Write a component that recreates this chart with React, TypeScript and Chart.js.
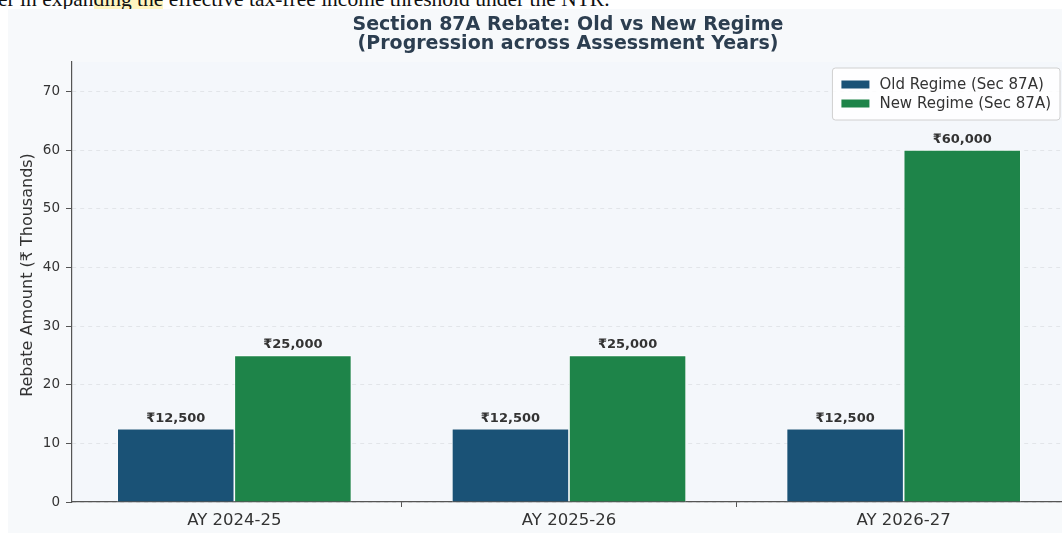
import React, { useEffect, useRef } from "react";
import { Chart, registerables } from "chart.js";

Chart.register(...registerables);

const categories = ["AY 2024-25", "AY 2025-26", "AY 2026-27"];
const oldRegime = [12.5, 12.5, 12.5];
const newRegime = [25, 25, 60];
const seriesLabels = ["Old Regime (Sec 87A)", "New Regime (Sec 87A)"];
const seriesColors = ["#1a5276", "#1e8449"];
const titleLines = ["Section 87A Rebate: Old vs New Regime", "(Progression across Assessment Years)"];
const yAxisTitle = "Rebate Amount (₹ Thousands)";
const yMax = 75;
const yStep = 10;
const captionBefore = "er in expan";
const captionHighlight = "ding the";
const captionAfter = " effective tax-free income threshold under the NTR.";

const FAMILY = "'DejaVu Sans', sans-serif";

const fmtRupee = (v: number) =>
  "₹" + String(Math.round(v * 1000)).replace(/\B(?=(\d{3})+(?!\d))/g, ",");

const bgPlugin = {
  id: "bgFill",
  beforeDraw(chart: any) {
    const { ctx, chartArea, width, height } = chart;
    ctx.save();
    ctx.fillStyle = "#f7f9fb";
    ctx.fillRect(0, 0, width, height);
    ctx.fillStyle = "#f4f7fb";
    ctx.fillRect(chartArea.left, chartArea.top, chartArea.right - chartArea.left, chartArea.bottom - chartArea.top);
    ctx.restore();
  },
};

const textPlugin = {
  id: "titles",
  afterDraw(chart: any) {
    const { ctx, chartArea } = chart;
    ctx.save();
    ctx.fillStyle = "#2c3e50";
    ctx.font = `bold 19px ${FAMILY}`;
    ctx.textAlign = "center";
    ctx.textBaseline = "middle";
    const cx = (chartArea.left + chartArea.right) / 2 - 1;
    titleLines.forEach((t, i) => ctx.fillText(t, cx, 16.5 + i * 19));
    ctx.translate(20, (chartArea.top + chartArea.bottom) / 2 - 7);
    ctx.rotate(-Math.PI / 2);
    ctx.fillStyle = "#333333";
    ctx.font = `16px ${FAMILY}`;
    ctx.fillText(yAxisTitle, 0, 0);
    ctx.restore();
  },
};

const valueLabelPlugin = {
  id: "valueLabels",
  afterDatasetsDraw(chart: any) {
    const { ctx } = chart;
    ctx.save();
    ctx.font = `bold 13px ${FAMILY}`;
    ctx.fillStyle = "#333333";
    ctx.textAlign = "center";
    ctx.textBaseline = "bottom";
    chart.data.datasets.forEach((ds: any, di: number) => {
      const meta = chart.getDatasetMeta(di);
      meta.data.forEach((el: any, i: number) => {
        const v = ds.data[i].y;
        ctx.fillText(fmtRupee(v), el.x, el.y - 4);
      });
    });
    ctx.restore();
  },
};

const legendPlugin = {
  id: "boxLegend",
  afterDraw(chart: any) {
    const { ctx, chartArea } = chart;
    const dsets = chart.data.datasets;
    ctx.save();
    ctx.font = `15px ${FAMILY}`;
    const maxW = Math.max(...dsets.map((d: any) => ctx.measureText(d.label).width));
    const padX = 9, patchW = 28, patchH = 8, gap = 10, rowH = 19, padY = 7;
    const boxW = padX + patchW + gap + maxW + padX;
    const boxH = padY * 2 + rowH * dsets.length;
    const right = chartArea.right - 6;
    const left = right - boxW;
    const top = chartArea.top + 6;
    ctx.beginPath();
    if ((ctx as any).roundRect) (ctx as any).roundRect(left, top, boxW, boxH, 3);
    else ctx.rect(left, top, boxW, boxH);
    ctx.fillStyle = "rgba(255,255,255,0.85)";
    ctx.fill();
    ctx.strokeStyle = "#d0d0d0";
    ctx.lineWidth = 1;
    ctx.stroke();
    ctx.textBaseline = "middle";
    ctx.textAlign = "left";
    dsets.forEach((d: any, i: number) => {
      const cy = top + padY + rowH * i + rowH / 2;
      ctx.fillStyle = d.backgroundColor;
      ctx.fillRect(left + padX, cy - patchH / 2, patchW, patchH);
      ctx.fillStyle = "#333333";
      ctx.fillText(d.label, left + padX + patchW + gap, cy + 1);
    });
    ctx.restore();
  },
};

function ChartCanvas() {
  const ref = useRef<HTMLCanvasElement | null>(null);
  useEffect(() => {
    if (!ref.current) return;
    const chart = new Chart(ref.current, {
      type: "bar",
      data: {
        datasets: [
          {
            label: seriesLabels[0],
            data: oldRegime.map((y, i) => ({ x: i, y })),
            backgroundColor: seriesColors[0],
            borderColor: "#ffffff",
            borderWidth: 0.8,
            categoryPercentage: 0.7,
            barPercentage: 1.0,
          },
          {
            label: seriesLabels[1],
            data: newRegime.map((y, i) => ({ x: i, y })),
            backgroundColor: seriesColors[1],
            borderColor: "#ffffff",
            borderWidth: 0.8,
            categoryPercentage: 0.7,
            barPercentage: 1.0,
          },
        ],
      },
      options: {
        responsive: false,
        animation: false,
        events: [],
        layout: { padding: { left: 0, right: 60, top: 53, bottom: 0 } },
        plugins: {
          legend: { display: false },
          tooltip: { enabled: false },
          title: { display: false },
        },
        scales: {
          x: {
            type: "linear",
            min: -0.485,
            max: 2.485,
            offset: false,
            grid: { drawOnChartArea: false, drawTicks: true, tickLength: 5, color: "#555555" },
            border: { display: true, color: "#555555", width: 1.2 },
            ticks: {
              stepSize: 1,
              includeBounds: false,
              autoSkip: false,
              maxRotation: 0,
              padding: 4,
              color: "#333333",
              font: { family: FAMILY, size: 16.5 },
              callback: (v: any) => (Number.isInteger(v) && categories[v] !== undefined ? categories[v] : ""),
            },
            afterFit: (s: any) => {
              s.height = 31;
            },
          },
          y: {
            min: 0,
            max: yMax,
            grid: { color: "rgba(0,0,0,0.07)", tickColor: "#555555", tickLength: 6, drawTicks: true },
            border: { display: true, color: "#555555", width: 1.2, dash: [4, 4] },
            ticks: {
              stepSize: yStep,
              includeBounds: false,
              padding: 6,
              color: "#333333",
              font: { family: FAMILY, size: 13.5 },
            },
            afterFit: (s: any) => {
              s.width = 64;
            },
          },
        },
      } as any,
      plugins: [bgPlugin, valueLabelPlugin, legendPlugin, textPlugin],
    });
    return () => chart.destroy();
  }, []);
  return (
    <canvas
      ref={ref}
      width={1118}
      height={524}
      style={{ position: "absolute", left: 8, top: 9, width: 1118, height: 524, display: "block" }}
    />
  );
}

export default function App() {
  return (
    <div
      style={{
        position: "fixed",
        left: 0,
        top: 0,
        width: 1062,
        height: 533,
        overflow: "hidden",
        background: "#ffffff",
      }}
    >
      <div
        style={{
          position: "absolute",
          left: -2,
          top: -11,
          whiteSpace: "nowrap",
          fontFamily: "'Liberation Serif', serif",
          fontSize: 21.5,
          lineHeight: "21.5px",
          color: "#111",
        }}
      >
        {captionBefore}
        <span style={{ background: "rgba(255,236,140,0.55)" }}>{captionHighlight}</span>
        {captionAfter}
      </div>
      <ChartCanvas />
    </div>
  );
}
